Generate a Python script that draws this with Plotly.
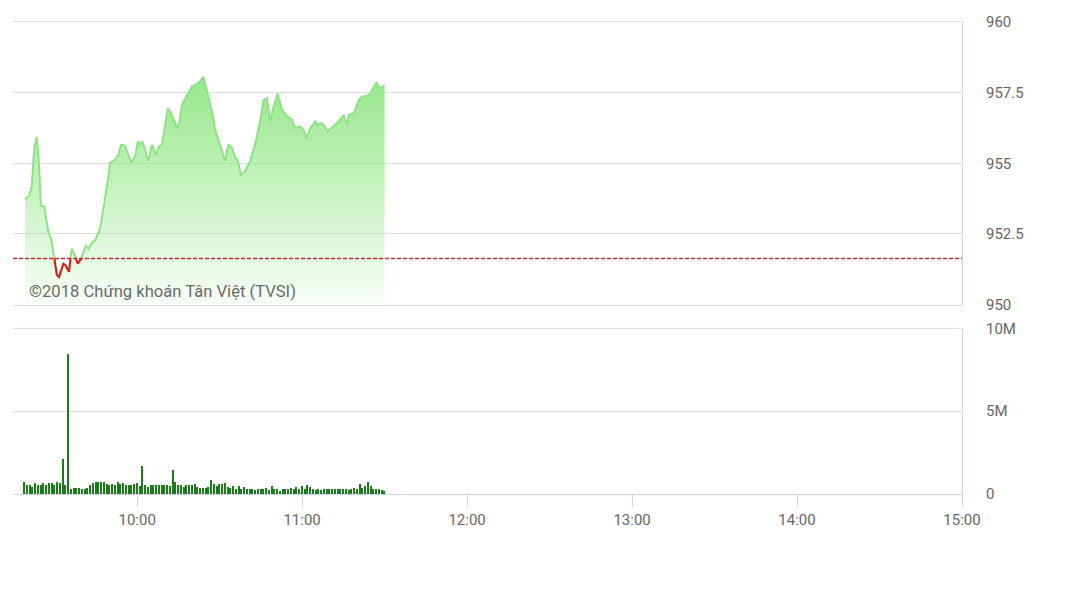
"""VN-Index intraday chart (TVSI style): price area + volume bars."""

import pandas as pd
import plotly.graph_objects as go

DAY = "2018-05-10"

# intraday index (time, level)
price_times = [
    "09:19:12", "09:20:42", "09:21:42", "09:22:36", "09:23:30", "09:24:18",
    "09:25:00", "09:26:12", "09:27:42", "09:28:42", "09:29:54", "09:30:48",
    "09:31:36", "09:33:12", "09:34:00", "09:35:12", "09:36:12", "09:37:24",
    "09:38:24", "09:39:36", "09:41:18", "09:42:18", "09:43:42", "09:44:42",
    "09:46:30", "09:48:18", "09:50:12", "09:52:00", "09:53:12", "09:54:12",
    "09:55:36", "09:57:48", "09:59:18", "10:00:18", "10:01:06", "10:01:54",
    "10:04:06", "10:05:24", "10:06:48", "10:08:00", "10:09:00", "10:10:12",
    "10:11:12", "10:12:36", "10:14:30", "10:15:18", "10:16:18", "10:18:06",
    "10:19:54", "10:21:42", "10:22:54", "10:24:06", "10:25:24", "10:27:12",
    "10:28:24", "10:30:12", "10:32:00", "10:33:12", "10:34:30", "10:35:42",
    "10:36:30", "10:37:48", "10:39:18", "10:41:06", "10:43:00", "10:44:48",
    "10:46:00", "10:47:12", "10:48:24", "10:49:36", "10:51:06", "10:52:42",
    "10:54:30", "10:56:18", "10:57:30", "10:59:18", "11:00:36", "11:01:30",
    "11:03:00", "11:04:48", "11:05:36", "11:06:54", "11:08:06", "11:09:18",
    "11:11:30", "11:13:18", "11:15:06", "11:16:24", "11:16:54", "11:18:48",
    "11:20:36", "11:21:48", "11:23:00", "11:24:48", "11:25:48", "11:27:00",
    "11:28:18", "11:30:00",
]
price_values = [
    953.73, 953.85, 954.20, 955.60, 955.93, 955.02, 953.50, 953.47, 952.56,
    952.33, 951.62, 951.05, 950.98, 951.45, 951.39, 951.16, 951.98, 951.74,
    951.45, 951.62, 952.07, 951.98, 952.21, 952.27, 952.68, 953.73, 955.02,
    955.13, 955.31, 955.66, 955.62, 955.02, 955.25, 955.78, 955.66, 955.78,
    955.08, 955.66, 955.31, 955.60, 955.66, 956.42, 956.95, 956.71, 956.25,
    956.42, 957.06, 957.41, 957.71, 957.80, 957.90, 958.06, 957.59, 956.85,
    956.19, 955.66, 955.08, 955.68, 955.54, 955.19, 955.13, 954.57, 954.73,
    955.08, 955.72, 956.54, 957.24, 957.30, 956.48, 957.01, 957.47, 956.89,
    956.66, 956.54, 956.25, 956.31, 956.19, 955.89, 956.25, 956.48, 956.36,
    956.42, 956.33, 956.13, 956.31, 956.48, 956.71, 956.36, 956.71, 956.77,
    957.24, 957.36, 957.36, 957.47, 957.65, 957.85, 957.65, 957.76,
]
REF_LEVEL = 951.63  # previous close

# volume per minute, 09:19 .. 11:30, in millions
volume_start = "09:19"
volume_millions = [
    0.70, 0.50, 0.54, 0.40, 0.66, 0.50, 0.50, 0.66, 0.50, 0.64,
    0.66, 0.50, 0.70, 0.66, 2.06, 0.54, 8.40, 0.30, 0.34, 0.34,
    0.34, 0.26, 0.30, 0.34, 0.50, 0.66, 0.70, 0.70, 0.70, 0.70,
    0.60, 0.54, 0.56, 0.50, 0.70, 0.56, 0.64, 0.50, 0.54, 0.50,
    0.60, 0.66, 0.44, 1.66, 0.50, 0.40, 0.50, 0.50, 0.50, 0.50,
    0.54, 0.50, 0.50, 0.46, 1.40, 0.70, 0.50, 0.50, 0.40, 0.54,
    0.54, 0.50, 0.56, 0.40, 0.36, 0.36, 0.36, 0.40, 0.84,
    0.60, 0.46, 0.60, 0.60, 0.66, 0.40, 0.36, 0.46, 0.30, 0.46,
    0.30, 0.40, 0.30, 0.26, 0.30, 0.22, 0.26, 0.30, 0.30, 0.36,
    0.22, 0.46, 0.26, 0.30, 0.16, 0.30, 0.26, 0.30, 0.36, 0.30,
    0.40, 0.30, 0.46, 0.26, 0.50, 0.40, 0.30, 0.22, 0.26, 0.22,
    0.30, 0.30, 0.26, 0.30, 0.30, 0.26, 0.30, 0.26, 0.30, 0.22,
    0.30, 0.36, 0.30, 0.60, 0.36, 0.46, 0.70, 0.46, 0.26, 0.30,
    0.26, 0.22, 0.16,
]

price_range = [950, 960]
price_ticks = [950, 952.5, 955, 957.5, 960]
volume_range = [0, 10]
volume_ticks = [0, 5, 10]
volume_ticktext = ["0", "5M", "10M"]
x_range = [f"{DAY} 09:14:51", f"{DAY} 15:00:00"]

GREEN_LINE = "#8ee384"
RED_LINE = "#e3191c"
VOL_COLOR = "#1a7d1a"
GRID = "#dcdcdc"
AXIS = "#ccd6eb"
LABEL = "#666666"
FONT = "Roboto"

t = pd.to_datetime([f"{DAY} {s}" for s in price_times])
tn = t.astype("int64")
vol_t = pd.date_range(f"{DAY} {volume_start}", periods=len(volume_millions), freq="min")


def _below_segments(times_ns, vals, ref):
    """Pieces of the line under the reference level, cut at the crossings."""
    xs, ys = [], []
    for i in range(len(vals) - 1):
        p0, p1 = vals[i], vals[i + 1]
        if p0 >= ref and p1 >= ref:
            if xs and xs[-1] is not None:
                xs.append(None)
                ys.append(None)
            continue
        cut = times_ns[i] + (ref - p0) / (p1 - p0) * (times_ns[i + 1] - times_ns[i]) if p0 != p1 else times_ns[i]
        a = (times_ns[i], p0) if p0 < ref else (cut, ref)
        b = (times_ns[i + 1], p1) if p1 < ref else (cut, ref)
        if not xs or xs[-1] is None:
            xs.append(a[0])
            ys.append(a[1])
        xs.append(b[0])
        ys.append(b[1])
    xs = [pd.to_datetime(int(v)) if v is not None else None for v in xs]
    return xs, ys


red_x, red_y = _below_segments(tn, price_values, REF_LEVEL)

fig = go.Figure()
fig.add_trace(
    go.Scatter(
        x=t,
        y=price_values,
        mode="lines",
        line=dict(color=GREEN_LINE, width=2),
        fill="tozeroy",
        fillgradient=dict(
            type="vertical",
            colorscale=[[0, "rgba(150,232,138,0.06)"], [1, "rgba(150,232,138,1)"]],
            start=price_range[0],
            stop=max(price_values),
        ),
        showlegend=False,
        hoverinfo="skip",
    )
)
fig.add_trace(
    go.Scatter(
        x=red_x,
        y=red_y,
        mode="lines",
        line=dict(color=RED_LINE, width=2),
        connectgaps=False,
        showlegend=False,
        hoverinfo="skip",
    )
)
fig.add_trace(
    go.Bar(
        x=vol_t,
        y=volume_millions,
        xaxis="x2",
        yaxis="y2",
        marker=dict(color=VOL_COLOR, line_width=0),
        width=36000,
        showlegend=False,
        hoverinfo="skip",
    )
)

fig.add_shape(
    type="line",
    xref="x domain",
    yref="y",
    x0=0,
    x1=1,
    y0=REF_LEVEL,
    y1=REF_LEVEL,
    line=dict(color="#d62728", width=1.3, dash="4px,2px"),
)
# 10M grid line at the top edge of the volume pane
fig.add_shape(
    type="line",
    xref="x2 domain",
    yref="y2 domain",
    x0=0,
    x1=1,
    y0=1,
    y1=1,
    line=dict(color=GRID, width=1),
    layer="below",
)

fig.add_annotation(
    text="©2018 Chứng khoán Tân Việt (TVSI)",
    xref="paper",
    yref="y domain",
    x=0.0148,
    y=0.046,
    xanchor="left",
    yanchor="middle",
    showarrow=False,
    font=dict(family=FONT, size=16.6, color="#6a6a6a"),
)

yaxis_common = dict(
    side="right",
    showline=True,
    linecolor=AXIS,
    linewidth=1,
    showgrid=True,
    gridcolor=GRID,
    gridwidth=1,
    zeroline=False,
    ticks="",
    ticklabelstandoff=20,
    tickfont=dict(family=FONT, size=15, color=LABEL),
    fixedrange=True,
)

# page body keeps its default 8px margin, so the figure is 16px smaller
fig.update_layout(
    width=1051,
    height=583,
    margin=dict(l=5, r=97, t=10, b=97),
    paper_bgcolor="white",
    plot_bgcolor="white",
    font=dict(family=FONT, color=LABEL),
    bargap=0,
    xaxis=dict(
        type="date",
        range=x_range,
        anchor="y",
        matches="x2",
        showticklabels=False,
        showgrid=False,
        zeroline=False,
        showline=True,
        mirror=True,
        linecolor=GRID,
        linewidth=1,
        ticks="",
    ),
    xaxis2=dict(
        type="date",
        range=x_range,
        anchor="y2",
        showgrid=False,
        zeroline=False,
        showline=True,
        linecolor=AXIS,
        linewidth=1,
        ticks="outside",
        ticklen=12,
        tickcolor=AXIS,
        tickwidth=1,
        tick0=f"{DAY} 10:00",
        dtick=3600000,
        tickformat="%H:%M",
        tickfont=dict(family=FONT, size=15, color=LABEL),
    ),
    yaxis=dict(
        domain=[0.4013, 1],
        range=price_range,
        tickvals=price_ticks,
        ticktext=[f"{v:g}" for v in price_ticks],
        anchor="x",
        **yaxis_common,
    ),
    yaxis2=dict(
        domain=[0, 0.3508],
        range=volume_range,
        tickvals=volume_ticks,
        ticktext=volume_ticktext,
        anchor="x2",
        **yaxis_common,
    ),
)

fig.write_html("out.html")
